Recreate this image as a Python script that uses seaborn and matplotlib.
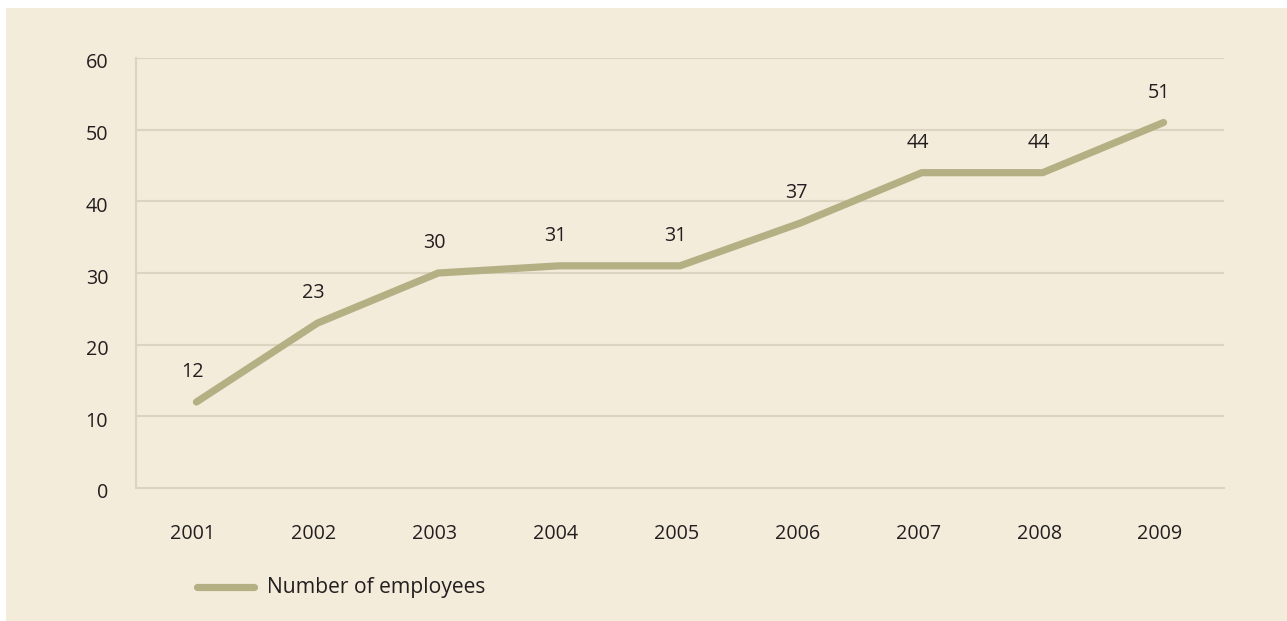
import matplotlib
matplotlib.use("Agg")
import matplotlib.pyplot as plt
import matplotlib.transforms as mtrans
import seaborn as sns
import pandas as pd

years = ["2001", "2002", "2003", "2004", "2005", "2006", "2007", "2008", "2009"]
employees = [12, 23, 30, 31, 31, 37, 44, 44, 51]
y_ticks = [0, 10, 20, 30, 40, 50, 60]
series_name = "Number of employees"

sns.set_theme(style="white")
plt.rcParams['font.family'] = ['Open Sans', 'DejaVu Sans']

BG = "#f4ecdb"
GRID = "#dcd4c0"
LINE = "#b5b084"
TXT = "#231f20"
FS = 14.2

W, H = 1287, 621
fig = plt.figure(figsize=(W / 100, H / 100), dpi=100)
fig.patch.set_facecolor("white")
# beige panel
fig.patches.append(plt.Rectangle((6 / W, 0), 1 - 6 / W, 1 - 8 / H, transform=fig.transFigure,
                                 facecolor=BG, edgecolor="none", zorder=-10))

ax = fig.add_axes([136 / W, 1 - 488 / H, (1224 - 136) / W, (488 - 58) / H])
ax.set_facecolor(BG)
ax.patch.set_alpha(0)

df = pd.DataFrame({"year": years, "employees": employees})
df["pos"] = range(len(years))
sns.lineplot(data=df, x="pos", y="employees", ax=ax, color=LINE, linewidth=5.2,
             solid_capstyle="round", solid_joinstyle="miter", label=series_name, legend=False)

ax.set_xlim(-0.5, len(years) - 0.5)
ax.set_ylim(0, 60)
ax.set_yticks(y_ticks)
ax.set_xticks(range(len(years)))
ax.set_xticklabels(years)
ax.set_xlabel("")
ax.set_ylabel("")
for y in y_ticks[1:]:
    ax.axhline(y, color=GRID, linewidth=1.5, zorder=0)
for s in ["top", "right"]:
    ax.spines[s].set_visible(False)
for s in ["left", "bottom"]:
    ax.spines[s].set_color(GRID)
    ax.spines[s].set_linewidth(1.5)
ax.tick_params(axis="both", length=0, labelsize=FS, colors=TXT)
ax.tick_params(axis="x", pad=26)
ax.tick_params(axis="y", pad=20)

# small offsets of tick labels as in the reference
xoff = mtrans.ScaledTranslation(-3.5 / 100, 0, fig.dpi_scale_trans)
for lab in ax.get_xticklabels():
    lab.set_transform(lab.get_transform() + xoff)
yoff = mtrans.ScaledTranslation(0, -3 / 100, fig.dpi_scale_trans)
for lab in ax.get_yticklabels():
    lab.set_transform(lab.get_transform() + yoff)

for i, v in enumerate(employees):
    ax.annotate(str(v), (i, v), xytext=(-3, 21.5), textcoords="offset points",
                ha="center", va="center", fontsize=FS, color=TXT)

# legend
fig.lines.append(plt.Line2D([197 / W, 254 / W], [1 - 587 / H] * 2, transform=fig.transFigure,
                            color=LINE, linewidth=5.2, solid_capstyle="round"))
fig.text(267 / W, 1 - 587 / H, series_name, fontsize=15.2, color=TXT, va="center", ha="left")

fig.savefig("out.png", dpi=100, facecolor=fig.get_facecolor())
